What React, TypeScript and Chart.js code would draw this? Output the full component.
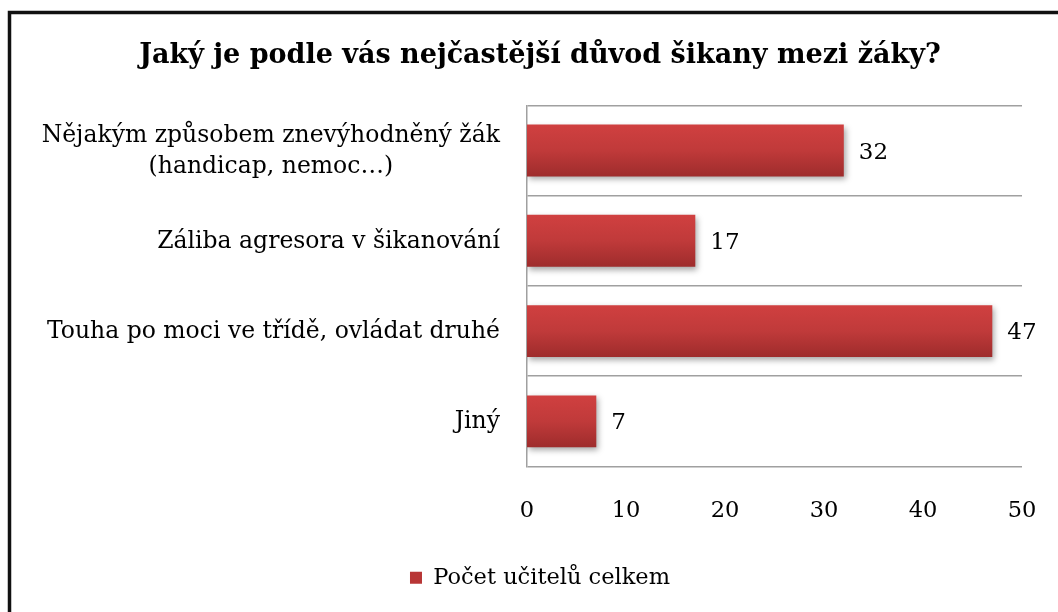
import React, { useEffect, useRef } from "react";
import { Chart, registerables } from "chart.js";

Chart.register(...registerables);

const titleText = "Jaký je podle vás nejčastější důvod šikany mezi žáky?";
const categories: string[][] = [
  ["Nějakým způsobem znevýhodněný žák", "(handicap, nemoc…)"],
  ["Záliba agresora v šikanování"],
  ["Touha po moci ve třídě, ovládat druhé"],
  ["Jiný"],
];
const values = [32, 17, 47, 7];
const seriesName = "Počet učitelů celkem";
const xMin = 0;
const xMax = 50;
const xStep = 10;

const FONT = "'DejaVu Serif', serif";
const BAR_PCT = 0.575;

const barGradient = (ctx: any) => {
  const chart = ctx.chart;
  const y = chart.scales?.y;
  if (!y || ctx.dataIndex === undefined) return "#B83636";
  const c = y.getPixelForValue(ctx.dataIndex);
  const band = (chart.chartArea.bottom - chart.chartArea.top) / categories.length;
  const h = band * BAR_PCT;
  const g = chart.ctx.createLinearGradient(0, c - h / 2, 0, c + h / 2);
  g.addColorStop(0, "#D04040");
  g.addColorStop(0.5, "#C03A3A");
  g.addColorStop(1, "#9E2C2C");
  return g;
};

const shadowPlugin = {
  id: "barShadow",
  beforeDatasetsDraw(chart: any) {
    const c = chart.ctx;
    c.save();
    c.shadowColor = "rgba(0,0,0,0.35)";
    c.shadowBlur = 6;
    c.shadowOffsetX = 2;
    c.shadowOffsetY = 3;
  },
  afterDatasetsDraw(chart: any) {
    chart.ctx.restore();
    const c = chart.ctx;
    const meta = chart.getDatasetMeta(0);
    c.save();
    c.font = `23px ${FONT}`;
    c.fillStyle = "#000";
    c.textAlign = "left";
    c.textBaseline = "middle";
    meta.data.forEach((el: any, i: number) => {
      c.fillText(String(values[i]), el.x + 15, el.y + 2);
    });
    c.restore();
  },
};

const labelsPlugin = {
  id: "catLabels",
  afterDraw(chart: any) {
    const c = chart.ctx;
    const y = chart.scales.y;
    const rightX = chart.chartArea.left - 27;
    const lh = 31;
    c.save();
    c.font = `23.5px ${FONT}`;
    c.fillStyle = "#000";
    c.textAlign = "center";
    c.textBaseline = "middle";
    categories.forEach((lines, i) => {
      const cy = y.getPixelForTick(i);
      const maxW = Math.max(...lines.map((l) => c.measureText(l).width));
      const cx = rightX - maxW / 2;
      lines.forEach((l, j) => {
        c.fillText(l, cx, cy + 1 + (j - (lines.length - 1) / 2) * lh);
      });
    });
    c.restore();
  },
};

const borderPlugin = {
  id: "frame",
  beforeDraw(chart: any) {
    const c = chart.ctx;
    c.save();
    c.fillStyle = "#fff";
    c.fillRect(0, 0, chart.width, chart.height);
    c.strokeStyle = "#111";
    c.lineWidth = 3.5;
    c.beginPath();
    c.moveTo(9.5, chart.height + 5);
    c.lineTo(9.5, 12.5);
    c.lineTo(chart.width + 5, 12.5);
    c.stroke();
    c.restore();
  },
};

export default function App() {
  const ref = useRef<HTMLCanvasElement>(null);
  useEffect(() => {
    if (!ref.current) return;
    const chart = new Chart(ref.current, {
      type: "bar",
      data: {
        labels: categories.map((l) => l.join(" ")),
        datasets: [
          {
            label: seriesName,
            data: values,
            backgroundColor: barGradient,
            borderWidth: 0,
            barPercentage: BAR_PCT,
            categoryPercentage: 1,
          },
        ],
      },
      options: {
        indexAxis: "y",
        animation: false,
        responsive: false,
        events: [],
        layout: { padding: { left: 58, right: 36, top: 0, bottom: 13 } },
        scales: {
          x: {
            min: xMin,
            max: xMax,
            ticks: {
              stepSize: xStep,
              color: "#000",
              font: { family: FONT, size: 22.5 },
              padding: 31,
            },
            grid: { display: false, drawTicks: false },
            border: { display: false },
            afterFit: (s: any) => {
              s.height = 90;
              s.paddingLeft = 0;
              s.paddingRight = 0;
            },
          },
          y: {
            type: "category",
            offset: true,
            ticks: { display: false },
            grid: {
              offset: true,
              color: "#A0A0A0",
              lineWidth: 1.5,
              drawTicks: false,
            },
            border: { display: true, color: "#A0A0A0", width: 1.5 },
            afterFit: (s: any) => {
              s.width = 527 - 58;
            },
          },
        },
        plugins: {
          title: {
            display: true,
            text: titleText,
            color: "#000",
            font: { family: FONT, size: 27, weight: "bold" },
            padding: { top: 40, bottom: 33 },
          },
          legend: {
            position: "bottom",
            labels: {
              boxWidth: 12,
              boxHeight: 12,
              color: "#000",
              font: { family: FONT, size: 22.5 },
              generateLabels: () => [
                {
                  text: seriesName,
                  fillStyle: "#B83636",
                  strokeStyle: "#B83636",
                  lineWidth: 0,
                  hidden: false,
                  datasetIndex: 0,
                },
              ],
            },
          },
          tooltip: { enabled: false },
        },
      },
      plugins: [borderPlugin, shadowPlugin, labelsPlugin],
    });
    return () => chart.destroy();
  }, []);
  return (
    <div style={{ position: "fixed", left: 0, top: 0, width: 1058, height: 612, background: "#fff" }}>
      <canvas ref={ref} width={1058} height={612} style={{ width: 1058, height: 612 }} />
    </div>
  );
}
